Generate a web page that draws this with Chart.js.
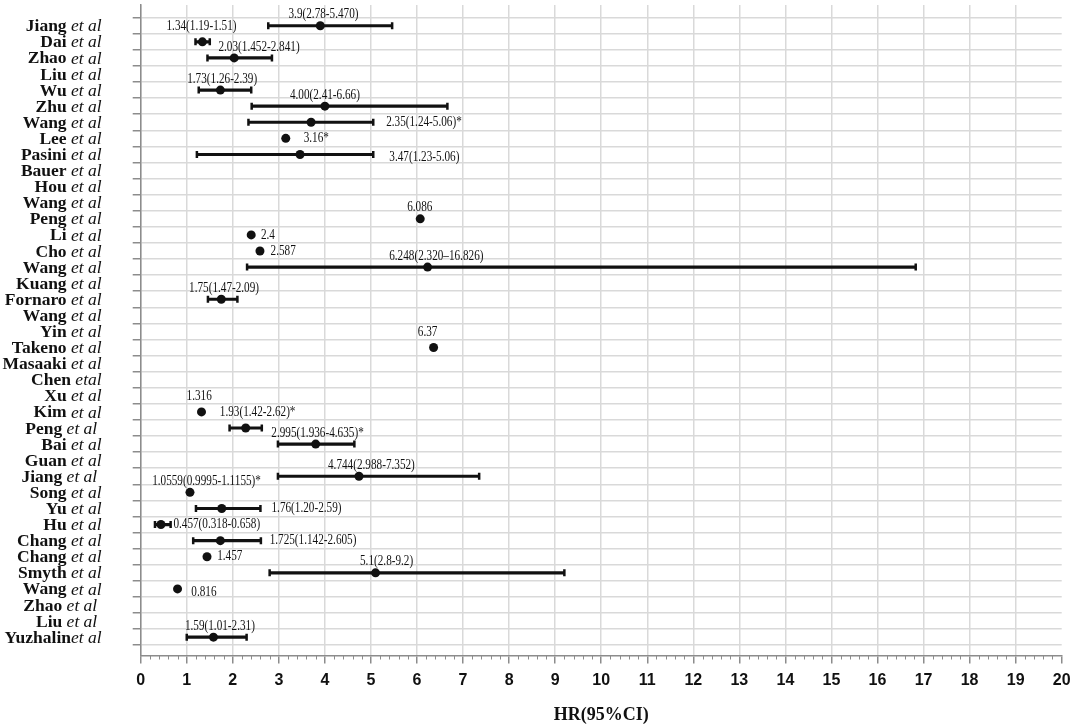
<!DOCTYPE html>
<html>
<head>
<meta charset="utf-8">
<script src="https://cdn.jsdelivr.net/npm/chart.js@4.4.1/dist/chart.umd.min.js"></script>
<style>
  html, body { margin: 0; padding: 0; background: #fff; }
  #wrap { width: 1074px; height: 724px; position: relative; }
</style>
</head>
<body>
<div id="wrap"><canvas id="forest"></canvas></div>
<script>
// studies, top to bottom
const studies = [
    'Jiang et al', 'Dai et al', 'Zhao et al', 'Liu et al', 'Wu et al', 'Zhu et al',
    'Wang et al', 'Lee et al', 'Pasini et al', 'Bauer et al', 'Hou et al', 'Wang et al',
    'Peng et al', 'Li et al', 'Cho et al', 'Wang et al', 'Kuang et al', 'Fornaro et al',
    'Wang et al', 'Yin et al', 'Takeno et al', 'Masaaki et al', 'Chen etal', 'Xu et al',
    'Kim et al', 'Peng et al ', 'Bai et al', 'Guan et al', 'Jiang et al ', 'Song et al',
    'Yu et al', 'Hu et al', 'Chang et al', 'Chang et al', 'Smyth et al', 'Wang et al',
    'Zhao et al ', 'Liu et al ', 'Yuzhalinet al'
];

// plotted hazard ratio and 95% CI (null = nothing drawn on that row)
const hr = [
    3.9, 1.34, 2.03, null, 1.73, 4.0, 3.7, 3.15, 3.46, null, null, null,
    6.07, 2.4, 2.59, 6.23, null, 1.75, null, null, 6.36, null, null, null,
    1.32, 2.28, 3.8, null, 4.74, 1.07, 1.76, 0.44, 1.73, 1.44, 5.1, 0.8,
    null, null, 1.58
];
const ciLow = [
    2.77, 1.19, 1.45, null, 1.26, 2.41, 2.34, null, 1.22, null, null, null,
    null, null, null, 2.31, null, 1.46, null, null, null, null, null, null,
    null, 1.93, 2.98, null, 2.98, null, 1.2, 0.31, 1.14, null, 2.8, null,
    null, null, 1.0
];
const ciHigh = [
    5.46, 1.5, 2.85, null, 2.4, 6.66, 5.05, null, 5.05, null, null, null,
    null, null, null, 16.83, null, 2.1, null, null, null, null, null, null,
    null, 2.63, 4.64, null, 7.35, null, 2.6, 0.65, 2.61, null, 9.2, null,
    null, null, 2.3
];

// value labels written next to the marks
const valueText = [
    '3.9(2.78-5.470)', '1.34(1.19-1.51)', '2.03(1.452-2.841)', '', '1.73(1.26-2.39)', '4.00(2.41-6.66)',
    '2.35(1.24-5.06)*', '3.16*', '3.47(1.23-5.06)', '', '', '',
    '6.086', '2.4', '2.587', '6.248(2.320\u201316.826)', '', '1.75(1.47-2.09)',
    '', '', '6.37', '', '', '',
    '1.316', '1.93(1.42-2.62)*', '2.995(1.936-4.635)*', '', '4.744(2.988-7.352)', '1.0559(0.9995-1.1155)*',
    '1.76(1.20-2.59)', '0.457(0.318-0.658)', '1.725(1.142-2.605)', '1.457', '5.1(2.8-9.2)', '0.816',
    '', '', '1.59(1.01-2.31)'
];
// where each label sits on the HR axis
const valueTextAt = [
    3.97, 1.32, 2.57, 0, 1.77, 4.0, 5.33, 3.54, 5.40, 0, 0, 0,
    6.06, 2.61, 2.82, 6.42, 0, 1.81, 0, 0, 6.23, 0, 0, 0,
    1.27, 2.54, 3.84, 0, 5.01, 1.43, 2.84, 0.71, 2.80, 1.66, 5.34, 1.10,
    0, 0, 1.72
];
// t = above, h = higher above, r = right of mark, R = right and a bit low
const valueTextPlace = [
    't', 'h', 't', '', 't', 't', 'r', 'r', 'R', '', '', '',
    't', 'r', 'r', 't', '', 't', '', '', 'h', '', '', '',
    'h', 'h', 't', '', 't', 't', 'r', 'r', 'r', 'r', 't', 'R',
    '', '', 't'
];

const pointData = [];
const capData = [];
const ciData = [];
hr.forEach((v, i) => {
    if (v != null) pointData.push({x: v, y: i});
    if (ciLow[i] != null) {
        ciData.push({x: [ciLow[i], ciHigh[i]], y: i});
        capData.push({x: ciLow[i], y: i});
        capData.push({x: ciHigh[i], y: i});
    }
});

const INK = '#111';
const GRID = '#d9d9d9';
const AXIS = '#8c8c8c';

// study names: bold surname, italic "et al"
const studyLabels = {
    id: 'studyLabels',
    afterDraw(chart) {
        const ctx = chart.ctx;
        const y = chart.scales.y;
        const right = 101.6;
        ctx.save();
        ctx.fillStyle = INK;
        ctx.textBaseline = 'middle';
        ctx.textAlign = 'right';
        studies.forEach((s, i) => {
            const m = s.match(/^(.*?)(\s?et\s?al\s*)$/);
            const py = y.getPixelForValue(i) + 1;
            ctx.font = 'italic 17.5px "Liberation Serif"';
            ctx.fillText(m[2], right, py);
            const w = ctx.measureText(m[2]).width;
            ctx.font = 'bold 17.5px "Liberation Serif"';
            ctx.fillText(m[1], right - w, py);
        });
        ctx.restore();
    }
};

// small ticks every 0.2 on the HR axis
const minorTicks = {
    id: 'minorTicks',
    afterDraw(chart) {
        const ctx = chart.ctx;
        const x = chart.scales.x;
        const b = chart.chartArea.bottom;
        ctx.save();
        ctx.strokeStyle = AXIS;
        ctx.lineWidth = 1;
        for (let k = 1; k < 100; k++) {
            if (k % 5 === 0) continue;
            const px = Math.round(x.getPixelForValue(k / 5)) + 0.5;
            ctx.beginPath();
            ctx.moveTo(px, b);
            ctx.lineTo(px, b + 4);
            ctx.stroke();
        }
        ctx.restore();
    }
};

// HR (CI) text beside each estimate
const valueLabels = {
    id: 'valueLabels',
    afterDatasetsDraw(chart) {
        const ctx = chart.ctx;
        const x = chart.scales.x;
        const y = chart.scales.y;
        ctx.save();
        ctx.fillStyle = INK;
        ctx.font = '14px "Liberation Serif"';
        ctx.textBaseline = 'middle';
        valueText.forEach((t, i) => {
            if (!t) return;
            const p = valueTextPlace[i];
            const px = x.getPixelForValue(valueTextAt[i]);
            let py = y.getPixelForValue(i);
            if (p === 't') py -= 11;
            if (p === 'h') py -= 15.5;
            if (p === 'R') py += 3;
            ctx.textAlign = (p === 'r' || p === 'R') ? 'left' : 'center';
            ctx.save();
            ctx.translate(px, py);
            ctx.scale(0.8, 1);
            ctx.fillText(t, 0, 0);
            ctx.restore();
        });
        ctx.restore();
    }
};

const config = {
    type: 'scatter',
    data: {
        datasets: [
            {
                type: 'scatter',
                data: pointData,
                pointRadius: 4.5,
                pointBackgroundColor: INK,
                pointBorderWidth: 0
            },
            {
                type: 'scatter',
                data: capData,
                pointStyle: 'line',
                rotation: 90,
                pointRadius: 3.5,
                pointBorderColor: INK,
                pointBorderWidth: 2.5
            },
            {
                type: 'bar',
                indexAxis: 'y',
                data: ciData,
                backgroundColor: INK,
                barThickness: 2.5
            }
        ]
    },
    options: {
        responsive: true,
        maintainAspectRatio: false,
        animation: false,
        layout: { autoPadding: false, padding: { top: 5, right: 12.3, bottom: 0, left: 0 } },
        plugins: {
            legend: { display: false },
            tooltip: { enabled: false }
        },
        scales: {
            x: {
                type: 'linear',
                min: 0,
                max: 20,
                afterFit: s => { s.paddingRight = 0; },
                ticks: {
                    stepSize: 1,
                    color: INK,
                    padding: 7.5,
                    font: { family: 'Liberation Sans', size: 16, weight: 'bold' }
                },
                grid: {
                    color: c => (c.tick && c.tick.value === 20) ? 'rgba(0,0,0,0)' : GRID,
                    lineWidth: 1.5,
                    tickLength: 8,
                    tickColor: AXIS
                },
                border: { color: AXIS, width: 1.5 },
                title: {
                    display: true,
                    text: 'HR(95%CI)',
                    color: INK,
                    font: { family: 'Liberation Serif', size: 18, weight: 'bold', lineHeight: 1 },
                    padding: { top: 8.3, bottom: 0 }
                }
            },
            y: {
                type: 'linear',
                reverse: true,
                min: -0.77,
                max: 38.62,
                afterBuildTicks: s => { s.ticks = studies.map((_, i) => ({ value: i })); },
                afterFit: s => { s.width = 140.7; },
                ticks: { display: false },
                grid: {
                    color: GRID,
                    lineWidth: 1.5,
                    tickLength: 8,
                    tickColor: AXIS
                },
                border: { color: AXIS, width: 1.5 }
            }
        }
    },
    plugins: [studyLabels, minorTicks, valueLabels]
};

const forestChart = new Chart(document.getElementById('forest'), config);
</script>
</body>
</html>
